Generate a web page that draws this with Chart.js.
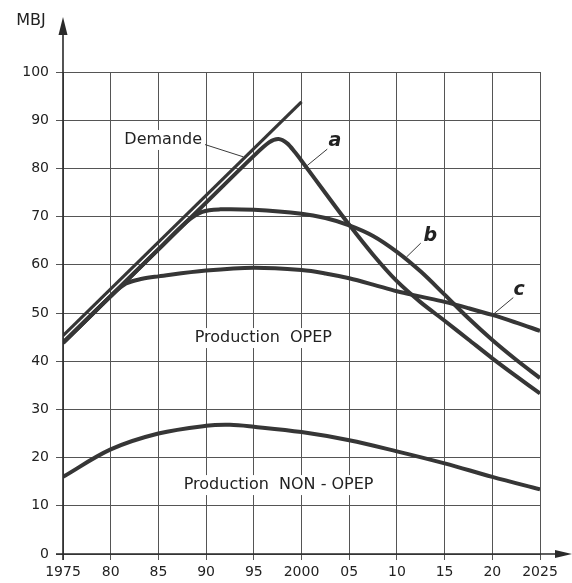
<!DOCTYPE html>
<html><head><meta charset="utf-8">
<script src="https://cdn.jsdelivr.net/npm/chart.js@4.4.1/dist/chart.umd.min.js"></script>
<style>html,body{margin:0;padding:0;background:#fff;}</style>
</head><body>
<canvas id="c" width="572" height="583"></canvas>
<script>
// ---- data ----
const xTickYears  = [1975,1980,1985,1990,1995,2000,2005,2010,2015,2020,2025];
const xTickLabels = ['1975','80','85','90','95','2000','05','10','15','20','2025'];
const yTickValues = [0,10,20,30,40,50,60,70,80,90,100];

const demandeYears  = [1975, 2000];
const demandeValues = [45.3, 93.8];

const curveAYears  = [1975,1980,1985,1990,1995,1996.6,1997.6,1998.5,1999.3,2000,2002.5,2005,2007.5,2010,2012.5,2015,2017.5,2020,2022.5,2025];
const curveAValues = [43.8,53.5,63.2,72.9,82.6,85.4,86.1,85.2,83.4,81.6,74.9,68.3,62.1,56.6,52.2,48.4,44.5,40.6,36.9,33.3];

const curveBYears  = [1975,1980,1985,1988,1989.6,1991.5,1995,2000,2002.5,2005,2007.5,2010,2012.5,2015,2017.5,2020,2022.5,2025];
const curveBValues = [43.8,53.5,63.2,69.0,71.0,71.5,71.4,70.6,69.7,68.2,66.0,62.7,58.6,53.8,48.9,44.4,40.3,36.5];

const curveCYears  = [1975,1980,1981.6,1983.3,1985,1990,1995,2000,2002.5,2005,2007.5,2010,2012.5,2015,2017.5,2020,2022.5,2025];
const curveCValues = [43.8,53.5,56.1,57.1,57.6,58.8,59.4,58.9,58.2,57.2,55.9,54.5,53.4,52.3,51.0,49.6,48.0,46.3];

const nonOpepYears  = [1975,1980,1985,1990,1992.5,1995,2000,2005,2010,2015,2020,2025];
const nonOpepValues = [16.0,21.7,25.0,26.6,26.8,26.4,25.3,23.6,21.3,18.8,16.0,13.4];

const pts = (xs, ys) => xs.map((x, i) => ({x, y: ys[i]}));

const INK = '#363636';
const lineDs = (data, w, tension) => ({
  data, borderColor: INK, borderWidth: w, pointRadius: 0, fill: false,
  tension: tension, cubicInterpolationMode: 'default',
  borderJoinStyle: 'round', borderCapStyle: 'butt'
});

// text labels placed in data coordinates
const labels = [
  {t: 'Demande', x: 1985.5, y: 85.9, font: '16px "DejaVu Sans"', bg: true},
  {t: 'Production  OPEP', x: 1996.0, y: 44.8, font: '16px "DejaVu Sans"', bg: true},
  {t: 'Production  NON - OPEP', x: 1997.6, y: 14.3, font: '16px "DejaVu Sans"', bg: true},
  {t: 'a', x: 2003.5, y: 85.6, font: 'italic bold 19px "DejaVu Sans"', bg: false},
  {t: 'b', x: 2013.5, y: 66.0, font: 'italic bold 19px "DejaVu Sans"', bg: false},
  {t: 'c', x: 2022.8, y: 54.8, font: 'italic bold 19px "DejaVu Sans"', bg: false}
];
const leaders = [
  [1989.8, 85.0, 1993.9, 82.4],
  [2002.7, 84.0, 2000.6, 80.6],
  [2012.5, 64.5, 2011.0, 61.6],
  [2022.2, 53.2, 2020.2, 49.9]
];

const overlay = {
  id: 'overlay',
  afterDatasetsDraw(chart) {
    const {ctx, scales: {x, y}, chartArea: ca} = chart;
    const X = v => x.getPixelForValue(v), Y = v => y.getPixelForValue(v);
    ctx.save();
    ctx.strokeStyle = '#3a3a3a'; ctx.lineWidth = 1;
    leaders.forEach(l => { ctx.beginPath(); ctx.moveTo(X(l[0]), Y(l[1])); ctx.lineTo(X(l[2]), Y(l[3])); ctx.stroke(); });
    ctx.textAlign = 'center'; ctx.textBaseline = 'middle';
    labels.forEach(l => {
      ctx.font = l.font;
      const px = X(l.x), py = Y(l.y);
      if (l.bg) {
        const w = ctx.measureText(l.t).width;
        ctx.fillStyle = '#fff';
        ctx.fillRect(px - w / 2 - 3, py - 10, w + 6, 20);
      }
      ctx.fillStyle = '#222';
      ctx.fillText(l.t, px, py);
    });
    const x0 = ca.left, y0 = ca.bottom;
    ctx.strokeStyle = '#2a2a2a'; ctx.fillStyle = '#2a2a2a'; ctx.lineWidth = 1.6;
    ctx.beginPath(); ctx.moveTo(x0, y0 + 6); ctx.lineTo(x0, ca.top - 40); ctx.stroke();
    ctx.beginPath(); ctx.moveTo(x0, ca.top - 55); ctx.lineTo(x0 - 4.5, ca.top - 37); ctx.lineTo(x0 + 4.5, ca.top - 37); ctx.closePath(); ctx.fill();
    ctx.beginPath(); ctx.moveTo(x0 - 7, y0); ctx.lineTo(ca.right + 18, y0); ctx.stroke();
    ctx.beginPath(); ctx.moveTo(ca.right + 32, y0); ctx.lineTo(ca.right + 15, y0 - 4); ctx.lineTo(ca.right + 15, y0 + 4); ctx.closePath(); ctx.fill();
    ctx.font = '16px "DejaVu Sans"'; ctx.fillStyle = '#222'; ctx.textAlign = 'center';
    ctx.fillText('MBJ', 31, ca.top - 51);
    ctx.restore();
  }
};

new Chart(document.getElementById('c'), {
  type: 'line',
  data: {
    datasets: [
      lineDs(pts(nonOpepYears, nonOpepValues), 4, 0.35),
      lineDs(pts(curveCYears, curveCValues), 4, 0.35),
      lineDs(pts(curveBYears, curveBValues), 4, 0.35),
      lineDs(pts(curveAYears, curveAValues), 4, 0.3),
      lineDs(pts(demandeYears, demandeValues), 3.2, 0)
    ]
  },
  options: {
    responsive: false, animation: false, devicePixelRatio: 1,
    layout: {padding: {top: 72, right: 32, left: 0, bottom: 0}},
    plugins: {legend: {display: false}, title: {display: false}, tooltip: {enabled: false}},
    scales: {
      x: {
        type: 'linear', min: 1975, max: 2025,
        afterBuildTicks: s => { s.ticks = xTickYears.map(v => ({value: v})); },
        afterFit: s => { s.height = 29; },
        border: {display: false},
        grid: {color: '#555', lineWidth: 1, tickLength: 6, drawTicks: true},
        ticks: {
          padding: 4, color: '#222', maxRotation: 0, autoSkip: false,
          font: {family: 'DejaVu Sans', size: 14},
          callback: v => xTickLabels[xTickYears.indexOf(v)]
        }
      },
      y: {
        type: 'linear', min: 0, max: 100,
        afterBuildTicks: s => { s.ticks = yTickValues.map(v => ({value: v})); },
        afterFit: s => { s.width = 63; },
        border: {display: false},
        grid: {color: '#555', lineWidth: 1, tickLength: 7, drawTicks: true},
        ticks: {padding: 7, color: '#222', font: {family: 'DejaVu Sans', size: 14}}
      }
    }
  },
  plugins: [overlay]
});
</script>
</body></html>
